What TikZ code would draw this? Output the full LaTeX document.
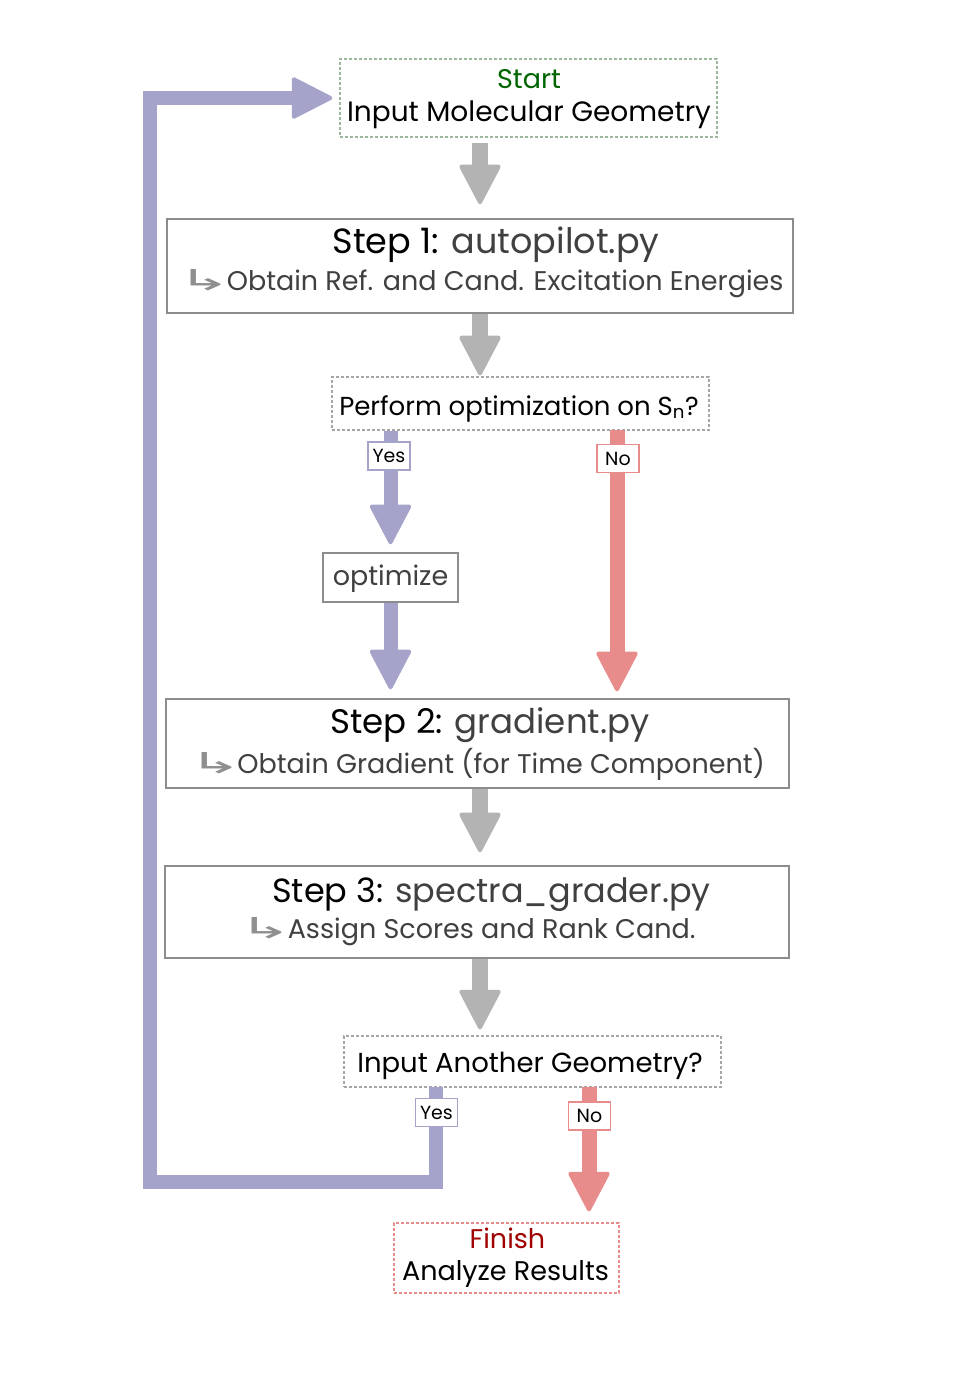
\documentclass[tikz,border=0pt]{standalone}
\usepackage{fontspec}
\setmainfont{Poppins}
\newfontfamily\symf{DejaVu Sans}
\usetikzlibrary{arrows.meta}
\definecolor{pur}{HTML}{A5A3C9}
\definecolor{rd}{HTML}{E88B8B}
\definecolor{gr}{HTML}{B3B3B3}
\definecolor{bord}{HTML}{8C8C8C}
\definecolor{dk}{HTML}{404040}
\definecolor{stg}{HTML}{006400}
\definecolor{fin}{HTML}{A00000}
\definecolor{dgreen}{HTML}{9DB89D}
\definecolor{dgray}{HTML}{A6A6A6}
\definecolor{arrg}{HTML}{8F8F8F}
\newcommand{\subarrow}{\textcolor{arrg}{\symf\fontsize{24}{26}\selectfont\scalebox{2.7}[1.2]{↳}}\hspace{-5pt}}
\begin{document}
\begin{tikzpicture}[x=1pt,y=-1pt,
  solidbox/.style={draw=bord, line width=1.5pt, fill=white, inner sep=0pt},
  dotbox/.style={draw=#1, line width=1.3pt, dash pattern=on 3pt off 2pt, inner sep=0pt},
  txt/.style={anchor=base, inner sep=0pt},
  big/.style={font=\fontsize{34}{38}\selectfont},
  mid/.style={font=\fontsize{27}{32}\selectfont},
  fat/.style={line width=15pt, draw=#1, -{Triangle[width=43pt,length=42pt,line width=4pt,round]}},
  lab/.style={draw=#1, fill=white, line width=1.3pt, inner sep=0pt, minimum width=42pt, minimum height=28pt, font=\fontsize{19}{22}\selectfont}
]
\useasboundingbox (0,0) rectangle (976,1398);

% boxes
\node[dotbox=dgreen, minimum width=377pt, minimum height=78pt] (start) at (528.5,98) {};
\node[solidbox, minimum width=626pt, minimum height=94pt] (step1) at (480,266) {};
\node[dotbox=dgray, minimum width=377pt, minimum height=53pt] (dec1) at (520.5,403.5) {};
\node[solidbox, minimum width=135pt, minimum height=49pt] (opt) at (390.5,577.5) {};
\node[solidbox, minimum width=623pt, minimum height=89pt] (step2) at (477.5,743.5) {};
\node[solidbox, minimum width=624pt, minimum height=92pt] (step3) at (477,912) {};
\node[dotbox=dgray, minimum width=377pt, minimum height=51pt] (dec2) at (532.5,1061.5) {};
\node[dotbox=rd, minimum width=225pt, minimum height=70pt] (finish) at (506.5,1258) {};

% texts
\node[txt, mid, text=stg] (t0a) at (529,88) {Start};
\node[txt, font=\fontsize{28}{32}\selectfont] (t0b) at (529,121) {Input Molecular Geometry};
\node[txt, font=\fontsize{35}{38}\selectfont] (t1a) at (496,253) {Step 1: \textcolor{dk}{autopilot.py}};
\node[txt, mid, text=dk] (t1b) at (480.5,290) {\subarrow Obtain Ref. and Cand. Excitation Energies};
\node[txt, font=\fontsize{26}{30}\selectfont] (td1) at (519,415) {Perform optimization on S\textsubscript{n}?};
\node[txt, mid, text=dk] (to) at (390.5,585) {optimize};
\node[txt, big] (t2a) at (490,733) {Step 2: \textcolor{dk}{gradient.py}};
\node[txt, mid, text=dk] (t2b) at (476.5,773) {\subarrow Obtain Gradient (for Time Component)};
\node[txt, font=\fontsize{33.5}{38}\selectfont] (t3a) at (491.5,902) {Step 3: \textcolor{dk}{spectra\_grader.py}};
\node[txt, mid, text=dk] (t3b) at (467,938) {\subarrow Assign Scores and Rank Cand.};
\node[txt, font=\fontsize{27.5}{32}\selectfont] (td2) at (530,1072) {Input Another Geometry?};
\node[txt, mid, text=fin] (tfa) at (507.5,1248) {Finish};
\node[txt, mid] (tfb) at (505.5,1280) {Analyze Results};

% gray arrows
\coordinate (ax) at (480,0);
\draw[fat=gr, line width=16pt, shorten <=5pt, shorten >=14pt] (start.south -| ax) -- (step1.north -| ax);
\draw[fat=gr, line width=16pt, shorten >=1pt] (step1.south -| ax) -- (dec1.north -| ax);
\draw[fat=gr, line width=16pt, shorten >=13pt] (step2.south -| ax) -- (step3.north -| ax);
\draw[fat=gr, line width=16pt, shorten >=6pt] (step3.south -| ax) -- (dec2.north -| ax);

% decision 1
\coordinate (y1) at (dec1.south -| opt.north);
\draw[fat=pur, line width=14pt, shorten >=8pt] (y1) -- (opt.north);
\draw[fat=pur, line width=14pt, shorten >=9pt] (opt.south) -- (opt.south |- step2.north);
\coordinate (n1) at (617,430);
\draw[fat=rd, shorten >=7pt] (n1) -- (n1 |- step2.north);

% decision 2
\coordinate (y2) at (436,1087);
\coordinate (lc) at (149.5,1182);
\draw[pur, line width=14pt, line join=miter, shorten >=7pt, -{Triangle[width=43pt,length=43pt,line width=4pt,round]}] (y2) |- (lc) |- (start.west);
\coordinate (n2) at (589,1087);
\draw[fat=rd, shorten >=11pt] (n2) -- (n2 |- finish.north);

% labels
\node[lab=pur] (yes1) at (389,456) {Yes};
\node[lab=rd] (no1) at (618,458.5) {No};
\node[lab=pur] (yes2) at (436.5,1112.5) {Yes};
\node[lab=rd] (no2) at (589.5,1116) {No};
\end{tikzpicture}
\end{document}
